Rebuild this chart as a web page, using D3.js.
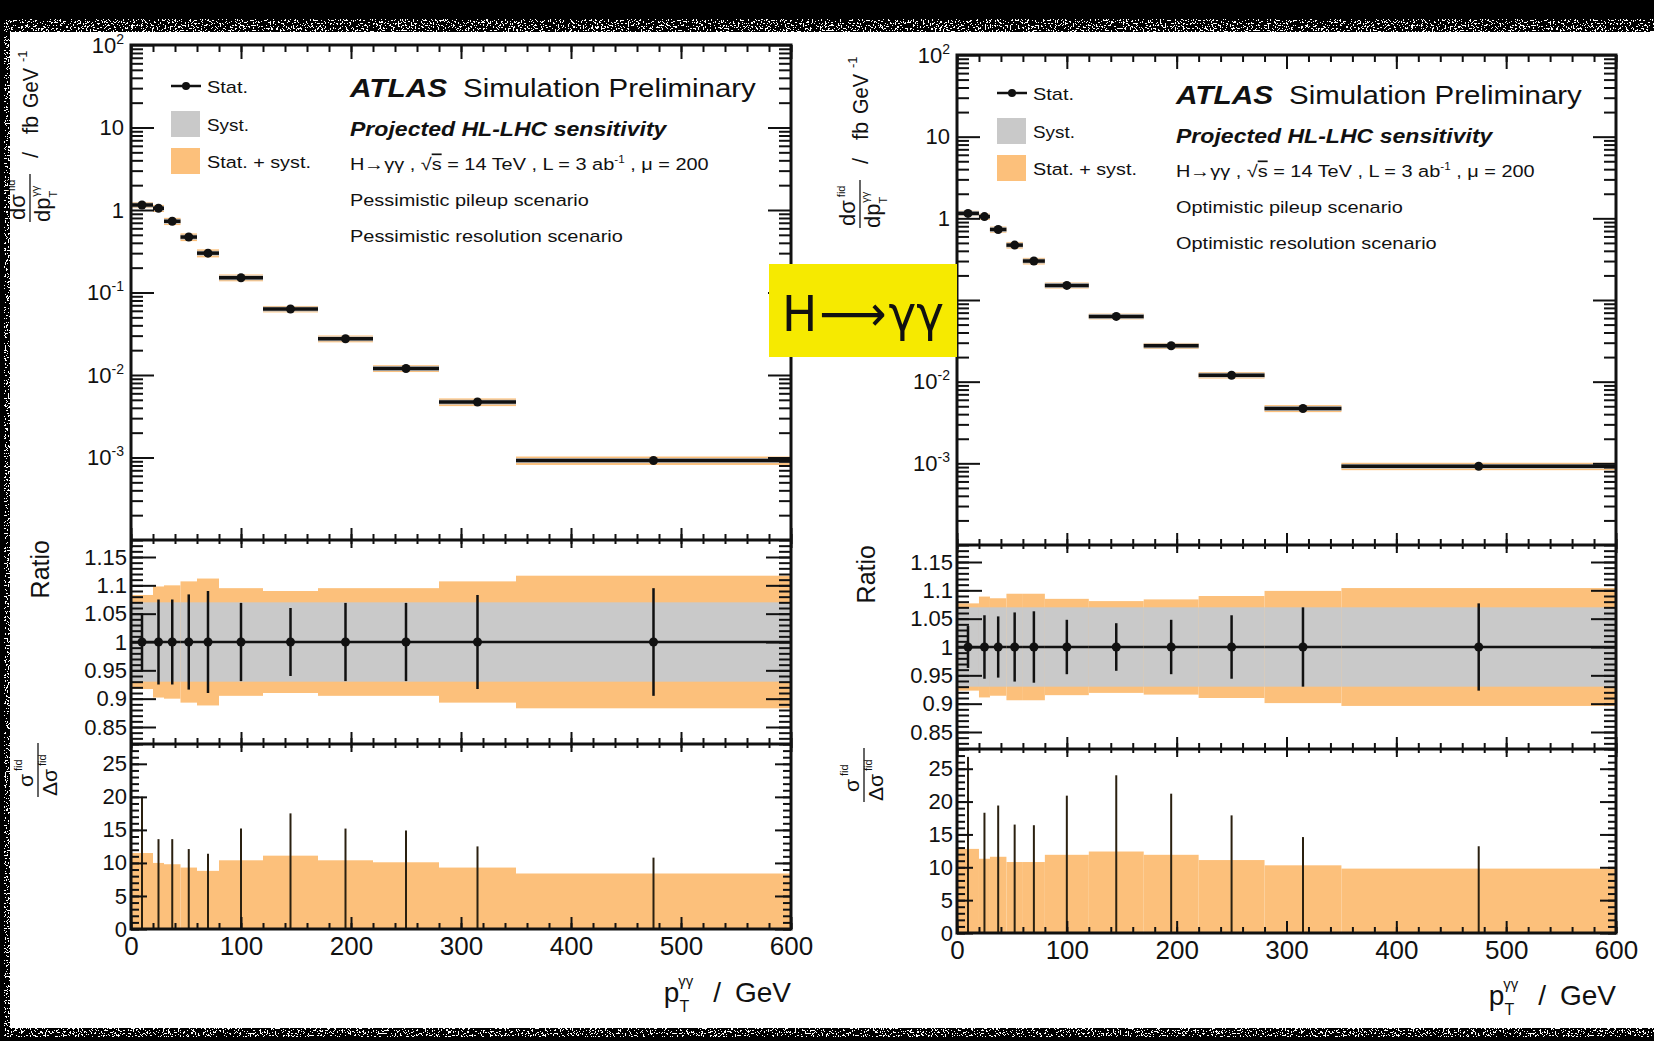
<!DOCTYPE html>
<html>
<head>
<meta charset="utf-8">
<title>H to gamma gamma pT projection</title>
<script src="https://cdn.jsdelivr.net/npm/d3@7"></script>
<style>
  html, body { margin: 0; padding: 0; background: #fff; }
  #chart svg { display: block; }
  text { font-family: "Liberation Sans", Arial, Helvetica, sans-serif; fill: #111; }
</style>
</head>
<body>
<div id="chart"></div>
<script>
// pT(gamma gamma) bins, GeV
const binEdges = [0, 20, 30, 45, 60, 80, 120, 170, 220, 280, 350, 600];
const binCenters = [10, 25, 37.5, 52.5, 70, 100, 145, 195, 250, 315, 475];
// dsigma/dpT, fb/GeV
const xsec = [1.15, 1.05, 0.73, 0.47, 0.30, 0.151, 0.063, 0.0275, 0.012, 0.0047, 0.00092];

// pessimistic scenario (relative uncertainties, and sigma / delta sigma)
const pessStat = [0.050, 0.075, 0.075, 0.084, 0.090, 0.069, 0.060, 0.069, 0.069, 0.083, 0.095];
const pessSyst = [0.070, 0.070, 0.070, 0.070, 0.070, 0.070, 0.070, 0.070, 0.070, 0.070, 0.070];
const pessTotal = [0.083, 0.098, 0.100, 0.107, 0.112, 0.095, 0.090, 0.095, 0.095, 0.107, 0.117];
const pessSigTotal = [11.5, 10.0, 9.8, 9.3, 8.8, 10.4, 11.1, 10.4, 10.1, 9.3, 8.4];
const pessSigStat = [20.0, 13.6, 13.6, 12.1, 11.4, 15.2, 17.5, 15.2, 14.9, 12.5, 10.8];

// optimistic scenario
const optStat = [0.037, 0.056, 0.054, 0.061, 0.063, 0.048, 0.042, 0.048, 0.056, 0.070, 0.077];
const optSyst = [0.070, 0.070, 0.070, 0.070, 0.070, 0.070, 0.070, 0.070, 0.070, 0.070, 0.070];
const optTotal = [0.077, 0.089, 0.086, 0.094, 0.094, 0.085, 0.081, 0.084, 0.090, 0.099, 0.104];
const optSigTotal = [12.8, 11.3, 11.6, 10.8, 10.8, 11.9, 12.4, 11.9, 11.1, 10.3, 9.8];
const optSigStat = [26.8, 18.3, 19.4, 16.5, 16.4, 20.9, 24.0, 21.2, 17.9, 14.6, 13.2];

// axis ticks
const xTicks = [0, 100, 200, 300, 400, 500, 600];
const mainTicks = [1e2, 1e1, 1, 1e-1, 1e-2, 1e-3];
const mainTickBase = ["10", "10", "1", "10", "10", "10"];
const mainTickExp = ["2", "", "", "-1", "-2", "-3"];
const ratioTicks = [0.85, 0.9, 0.95, 1, 1.05, 1.1, 1.15];
const sigTicks = [0, 5, 10, 15, 20, 25];

const ORANGE = "#fcc07b";
const GREY = "#c9c9c9";
const INK = "#111";

let layouts = [
  {x0: 131, x1: 791, top: 45, mainBottom: 540, ratioBottom: 744, bottom: 929, tx: 0, ty: 0,
    mtX: 30, mtY: 222, rtX: 49, rtY: 540, stX: 38, stY: 797, xtY: 1002,
    pileupW: 239, resW: 273},
  {x0: 957, x1: 1616, top: 55, mainBottom: 545, ratioBottom: 749, bottom: 933, tx: 826, ty: 7,
    mtX: 860, mtY: 228, rtX: 875, rtY: 545, stX: 864, stY: 802, xtY: 1005,
    pileupW: 227, resW: 261}
];
let scenarios = [
  {name: "Pessimistic", stat: pessStat, syst: pessSyst, total: pessTotal, sigTotal: pessSigTotal, sigStat: pessSigStat},
  {name: "Optimistic", stat: optStat, syst: optSyst, total: optTotal, sigTotal: optSigTotal, sigStat: optSigStat}
];

let svg = d3.select("#chart").append("svg")
  .attr("width", 1654)
  .attr("height", 1041);

svg.append("rect").attr("width", 1654).attr("height", 1041).attr("fill", "#fff");

// grainy scan border
let defs = svg.append("defs");
let grain = defs.append("filter").attr("id", "grain")
  .attr("x", 0).attr("y", 0).attr("width", 1).attr("height", 1)
  .attr("color-interpolation-filters", "sRGB");
grain.append("feTurbulence").attr("type", "fractalNoise").attr("baseFrequency", 0.6)
  .attr("numOctaves", 2).attr("seed", 5).attr("result", "n");
grain.append("feColorMatrix").attr("in", "n").attr("type", "matrix")
  .attr("values", "0 0 0 0 0  0 0 0 0 0  0 0 0 0 0  1 0 0 0 0").attr("result", "a");
grain.append("feComponentTransfer").attr("in", "a")
  .append("feFuncA").attr("type", "discrete").attr("tableValues", "0 0 1 1 1");

function fitWidth(t, width) {
  let w = t.node().getBBox().width;
  let x0 = +t.attr("x");
  t.attr("transform", "translate(" + x0 + ",0) scale(" + (width / w) + ",1) translate(" + (-x0) + ",0)");
}

function styleAxis(a, size) {
  a.attr("font-family", null).attr("font-size", size);
  a.select(".domain").remove();
  a.selectAll("line").attr("stroke", INK).attr("stroke-width", 2);
  a.selectAll("text").attr("fill", INK);
}

function xTickRow(g, x, yPos, size, minorSize) {
  let major = g.append("g").attr("transform", "translate(0," + yPos + ")")
    .call(d3.axisBottom(x).tickValues(xTicks).tickSize(size).tickFormat(""));
  let minor = g.append("g").attr("transform", "translate(0," + yPos + ")")
    .call(d3.axisBottom(x).tickValues(x.ticks(30)).tickSize(minorSize).tickFormat(""));
  styleAxis(major, 10);
  styleAxis(minor, 10);
}

function yTickCols(g, y, L, majorVals, minorVals, majorLen, minorLen) {
  [[L.x0, -1], [L.x1, 1]].forEach(function (side) {
    let a1 = g.append("g").attr("transform", "translate(" + side[0] + ",0)")
      .call(d3.axisLeft(y).tickValues(majorVals).tickSize(side[1] * majorLen).tickFormat(""));
    let a2 = g.append("g").attr("transform", "translate(" + side[0] + ",0)")
      .call(d3.axisLeft(y).tickValues(minorVals).tickSize(side[1] * minorLen).tickFormat(""));
    styleAxis(a1, 10);
    styleAxis(a2, 10);
  });
}

function drawPanel(L, S) {
  let g = svg.append("g");

  let x = d3.scaleLinear().domain([0, 600]).range([L.x0, L.x1]);
  let yMain = d3.scaleLog().domain([1e-4, 1e2]).range([L.mainBottom, L.top]);
  let yRatio = d3.scaleLinear().domain([0.82, 1.18]).range([L.ratioBottom, L.mainBottom]);
  let ySig = d3.scaleLinear().domain([0, 28]).range([L.bottom, L.ratioBottom]);

  let bins = binCenters.map(function (c, i) {
    return {c: c, lo: binEdges[i], hi: binEdges[i + 1], v: xsec[i],
      stat: S.stat[i], syst: S.syst[i], tot: S.total[i],
      sigTot: S.sigTotal[i], sigStat: S.sigStat[i]};
  });

  // uncertainty bands
  let bands = g.append("g");
  bands.selectAll("rect.mtot").data(bins).enter().append("rect")
    .attr("x", d => x(d.lo))
    .attr("width", d => x(d.hi) - x(d.lo))
    .attr("y", d => yMain(d.v * (1 + d.tot)))
    .attr("height", d => yMain(d.v * (1 - d.tot)) - yMain(d.v * (1 + d.tot)))
    .attr("fill", ORANGE);
  bands.selectAll("rect.msys").data(bins).enter().append("rect")
    .attr("x", d => x(d.lo))
    .attr("width", d => x(d.hi) - x(d.lo))
    .attr("y", d => yMain(d.v * (1 + d.syst)))
    .attr("height", d => yMain(d.v * (1 - d.syst)) - yMain(d.v * (1 + d.syst)))
    .attr("fill", GREY);
  bands.selectAll("rect.rtot").data(bins).enter().append("rect")
    .attr("x", d => x(d.lo))
    .attr("width", d => x(d.hi) - x(d.lo))
    .attr("y", d => yRatio(1 + d.tot))
    .attr("height", d => yRatio(1 - d.tot) - yRatio(1 + d.tot))
    .attr("fill", ORANGE);
  bands.selectAll("rect.rsys").data(bins).enter().append("rect")
    .attr("x", d => x(d.lo))
    .attr("width", d => x(d.hi) - x(d.lo))
    .attr("y", d => yRatio(1 + d.syst))
    .attr("height", d => yRatio(1 - d.syst) - yRatio(1 + d.syst))
    .attr("fill", GREY);
  bands.selectAll("rect.sig").data(bins).enter().append("rect")
    .attr("x", d => x(d.lo))
    .attr("width", d => x(d.hi) - x(d.lo))
    .attr("y", d => ySig(d.sigTot))
    .attr("height", d => ySig(0) - ySig(d.sigTot))
    .attr("fill", ORANGE);

  // stat-only significance lines
  g.selectAll("line.sigstat").data(bins).enter().append("line")
    .attr("x1", d => x(d.c)).attr("x2", d => x(d.c))
    .attr("y1", ySig(0)).attr("y2", d => ySig(d.sigStat))
    .attr("stroke", "#2a2010").attr("stroke-width", 2);

  // ticks
  let ticks = g.append("g");
  xTickRow(ticks, x, L.top, 14, 7);
  xTickRow(ticks, x, L.mainBottom, -12, -6);
  xTickRow(ticks, x, L.mainBottom, 8, 4);
  xTickRow(ticks, x, L.ratioBottom, -12, -6);
  xTickRow(ticks, x, L.ratioBottom, 8, 4);
  xTickRow(ticks, x, L.bottom, -12, -6);

  let logMinor = yMain.ticks().filter(function (v) {
    let e = Math.log10(v);
    return Math.abs(e - Math.round(e)) > 1e-6;
  });
  yTickCols(ticks, yMain, L, mainTicks, logMinor, 23, 12);
  yTickCols(ticks, yRatio, L, ratioTicks, yRatio.ticks(36), 25, 12);
  yTickCols(ticks, ySig, L, sigTicks, ySig.ticks(28), 16, 8);

  // tick labels
  let xl = g.append("g").attr("transform", "translate(0," + L.bottom + ")")
    .call(d3.axisBottom(x).tickValues(xTicks).tickSize(0).tickPadding(8));
  styleAxis(xl, 26);

  let ml = g.append("g").attr("transform", "translate(" + L.x0 + ",0)")
    .call(d3.axisLeft(yMain).tickValues(mainTicks).tickSize(0).tickPadding(7));
  styleAxis(ml, 22);
  ml.selectAll("text").each(function (d, i) {
    let t = d3.select(this);
    t.text(null);
    t.append("tspan").text(mainTickBase[i]);
    if (mainTickExp[i]) {
      t.append("tspan").attr("font-size", 14).attr("dy", -9).text(mainTickExp[i]);
    }
  });

  let rl = g.append("g").attr("transform", "translate(" + L.x0 + ",0)")
    .call(d3.axisLeft(yRatio).tickValues(ratioTicks).tickSize(0).tickPadding(4)
      .tickFormat(d => String(d)));
  styleAxis(rl, 22);

  let sl = g.append("g").attr("transform", "translate(" + L.x0 + ",0)")
    .call(d3.axisLeft(ySig).tickValues(sigTicks).tickSize(0).tickPadding(4));
  styleAxis(sl, 22);

  // frames
  g.append("rect")
    .attr("x", L.x0).attr("y", L.top)
    .attr("width", L.x1 - L.x0).attr("height", L.bottom - L.top)
    .attr("fill", "none").attr("stroke", INK).attr("stroke-width", 3);
  [L.mainBottom, L.ratioBottom].forEach(function (yy) {
    g.append("line").attr("x1", L.x0).attr("x2", L.x1).attr("y1", yy).attr("y2", yy)
      .attr("stroke", INK).attr("stroke-width", 3);
  });

  // main panel points
  let pm = g.append("g");
  pm.selectAll("line.h").data(bins).enter().append("line")
    .attr("x1", d => x(d.lo)).attr("x2", d => x(d.hi))
    .attr("y1", d => yMain(d.v)).attr("y2", d => yMain(d.v))
    .attr("stroke", INK).attr("stroke-width", 3.5);
  pm.selectAll("line.v").data(bins).enter().append("line")
    .attr("x1", d => x(d.c)).attr("x2", d => x(d.c))
    .attr("y1", d => yMain(d.v * (1 + d.stat))).attr("y2", d => yMain(d.v * (1 - d.stat)))
    .attr("stroke", INK).attr("stroke-width", 3);
  pm.selectAll("circle").data(bins).enter().append("circle")
    .attr("cx", d => x(d.c)).attr("cy", d => yMain(d.v))
    .attr("r", 4.5).attr("fill", INK);

  // ratio points
  let pr = g.append("g");
  pr.selectAll("line.h").data(bins).enter().append("line")
    .attr("x1", d => x(d.lo)).attr("x2", d => x(d.hi))
    .attr("y1", yRatio(1)).attr("y2", yRatio(1))
    .attr("stroke", INK).attr("stroke-width", 2.5);
  pr.selectAll("line.v").data(bins).enter().append("line")
    .attr("x1", d => x(d.c)).attr("x2", d => x(d.c))
    .attr("y1", d => yRatio(1 + d.stat)).attr("y2", d => yRatio(1 - d.stat))
    .attr("stroke", INK).attr("stroke-width", 2.5);
  pr.selectAll("circle").data(bins).enter().append("circle")
    .attr("cx", d => x(d.c)).attr("cy", yRatio(1))
    .attr("r", 4.5).attr("fill", INK);

  // x axis title
  let xt = g.append("text").attr("x", L.x1).attr("y", L.xtY)
    .attr("text-anchor", "end").attr("font-size", 28);
  xt.append("tspan").text("p");
  xt.append("tspan").attr("font-size", 16).attr("dy", 10).text("T");
  xt.append("tspan").attr("font-size", 15).attr("dx", -11).attr("dy", -26).text("γγ");
  xt.append("tspan").attr("dx", 20).attr("dy", 16).text("/");
  xt.append("tspan").attr("dx", 14).text("GeV");

  drawYTitles(L);
  drawPlotText(L, S);
}

function drawYTitles(L) {
  // main: dsigma^fid / dpT^gg  / fb GeV^-1
  let t = svg.append("g").attr("transform", "translate(" + L.mtX + "," + L.mtY + ") rotate(-90)");
  t.append("line").attr("x1", 0).attr("x2", 48).attr("y1", 0).attr("y2", 0)
    .attr("stroke", "#333").attr("stroke-width", 1.5);
  let num = t.append("text").attr("x", 2).attr("y", -5).attr("font-size", 22);
  num.append("tspan").text("dσ");
  num.append("tspan").attr("font-size", 11).attr("dx", 3).attr("dy", -10).text("fid");
  let den = t.append("text").attr("x", 0).attr("y", 20).attr("font-size", 22);
  den.append("tspan").text("dp");
  den.append("tspan").attr("font-size", 11).attr("dy", 7).text("T");
  den.append("tspan").attr("font-size", 11).attr("dx", -6).attr("dy", -18).text("γγ");
  let unit = t.append("text").attr("y", 8).attr("font-size", 22);
  unit.append("tspan").attr("x", 64).text("/");
  unit.append("tspan").attr("x", 88).text("fb");
  unit.append("tspan").attr("x", 114).attr("textLength", 40).attr("lengthAdjust", "spacingAndGlyphs").text("GeV");
  unit.append("tspan").attr("x", 160).attr("dy", -11).attr("font-size", 13).text("-1");

  // ratio
  svg.append("text")
    .attr("transform", "translate(" + L.rtX + "," + L.rtY + ") rotate(-90)")
    .attr("text-anchor", "end").attr("font-size", 25)
    .text("Ratio");

  // significance: sigma^fid / delta sigma^fid
  let s = svg.append("g").attr("transform", "translate(" + L.stX + "," + L.stY + ") rotate(-90)");
  s.append("line").attr("x1", 0).attr("x2", 54).attr("y1", 0).attr("y2", 0)
    .attr("stroke", "#333").attr("stroke-width", 1.5);
  let sn = s.append("text").attr("x", 10).attr("y", -5).attr("font-size", 21);
  sn.append("tspan").text("σ");
  sn.append("tspan").attr("font-size", 11).attr("dx", 3).attr("dy", -11).text("fid");
  let sd = s.append("text").attr("x", 1).attr("y", 19).attr("font-size", 21);
  sd.append("tspan").text("Δσ");
  sd.append("tspan").attr("font-size", 11).attr("dx", 3).attr("dy", -11).text("fid");
}

function drawPlotText(L, S) {
  let g = svg.append("g").attr("transform", "translate(" + L.tx + "," + L.ty + ")");

  // legend
  g.append("line").attr("x1", 171).attr("x2", 201).attr("y1", 86).attr("y2", 86)
    .attr("stroke", INK).attr("stroke-width", 2.5);
  g.append("circle").attr("cx", 186).attr("cy", 86).attr("r", 4).attr("fill", INK);
  g.append("rect").attr("x", 171).attr("y", 111).attr("width", 29).attr("height", 26).attr("fill", GREY);
  g.append("rect").attr("x", 171).attr("y", 148).attr("width", 29).attr("height", 26).attr("fill", ORANGE);

  let l1 = g.append("text").attr("x", 207).attr("y", 93).attr("font-size", 17).text("Stat.");
  fitWidth(l1, 41);
  let l2 = g.append("text").attr("x", 207).attr("y", 131).attr("font-size", 17).text("Syst.");
  fitWidth(l2, 42);
  let l3 = g.append("text").attr("x", 207).attr("y", 168).attr("font-size", 17).text("Stat. + syst.");
  fitWidth(l3, 104);

  // labels
  let a = g.append("text").attr("x", 350).attr("y", 97).attr("font-size", 26)
    .attr("font-weight", "bold").attr("font-style", "italic").text("ATLAS");
  fitWidth(a, 99);
  let b = g.append("text").attr("x", 463).attr("y", 97).attr("font-size", 26)
    .text("Simulation Preliminary");
  fitWidth(b, 293);
  let c = g.append("text").attr("x", 350).attr("y", 136).attr("font-size", 21)
    .attr("font-weight", "bold").attr("font-style", "italic").text("Projected HL-LHC sensitivity");
  fitWidth(c, 318);

  let h = g.append("text").attr("x", 350).attr("y", 170).attr("font-size", 17);
  h.append("tspan").text("H→γγ , √");
  h.append("tspan").style("text-decoration", "overline").text("s");
  h.append("tspan").text(" = 14 TeV , L = 3 ab");
  h.append("tspan").attr("font-size", 10).attr("dy", -7).text("-1");
  h.append("tspan").attr("dy", 7).text(" , μ = 200");
  fitWidth(h, 359);

  let p1 = g.append("text").attr("x", 350).attr("y", 206).attr("font-size", 17)
    .text(S.name + " pileup scenario");
  fitWidth(p1, L.pileupW);
  let p2 = g.append("text").attr("x", 350).attr("y", 242).attr("font-size", 17)
    .text(S.name + " resolution scenario");
  fitWidth(p2, L.resW);
}

layouts.forEach(function (L, i) {
  drawPanel(L, scenarios[i]);
});

// yellow process tag
svg.append("rect").attr("x", 769).attr("y", 264).attr("width", 188).attr("height", 93)
  .attr("fill", "#f6ea00");
let tag = svg.append("text").attr("x", 782).attr("y", 331).attr("font-size", 50)
  .style("font-family", "'DejaVu Sans', 'Liberation Sans', sans-serif").attr("fill", "#000");
tag.append("tspan").text("H");
tag.append("tspan").attr("dx", 2).text("⟶");
tag.append("tspan").attr("dx", 2).text("γγ");
fitWidth(tag, 162);

// scan border
svg.append("rect").attr("x", 0).attr("y", 0).attr("width", 1654).attr("height", 32)
  .attr("fill", "#000").attr("filter", "url(#grain)");
svg.append("rect").attr("x", 0).attr("y", 0).attr("width", 1654).attr("height", 19).attr("fill", "#000");
svg.append("rect").attr("x", 0).attr("y", 0).attr("width", 10).attr("height", 1041)
  .attr("fill", "#000").attr("filter", "url(#grain)");
svg.append("rect").attr("x", 0).attr("y", 0).attr("width", 4).attr("height", 1041).attr("fill", "#000");
svg.append("rect").attr("x", 0).attr("y", 1028).attr("width", 1654).attr("height", 13)
  .attr("fill", "#000").attr("filter", "url(#grain)");
svg.append("rect").attr("x", 0).attr("y", 1037).attr("width", 1654).attr("height", 4).attr("fill", "#000");
</script>
</body>
</html>
